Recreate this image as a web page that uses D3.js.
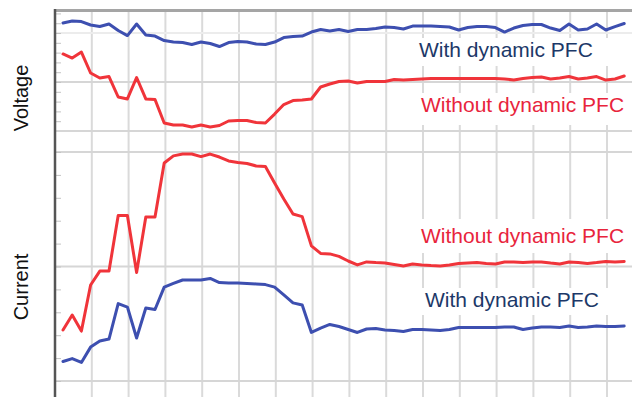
<!DOCTYPE html>
<html><head><meta charset="utf-8">
<script src="https://cdn.jsdelivr.net/npm/d3@7"></script>
<style>body{margin:0;background:#fff}svg{display:block}</style>
</head><body>
<svg width="632" height="397"></svg>
<script>
// ---- data (arbitrary units) ----
const sampleCount = 62;
const voltageWith = [11.02,11.22,11.17,10.82,10.66,10.92,10.26,9.74,10.92,9.80,9.69,9.23,9.08,9.03,8.83,9.08,8.93,8.62,9.03,9.13,9.08,8.88,8.83,9.08,9.54,9.64,9.69,10.10,10.36,10.20,10.36,10.15,10.36,10.36,10.46,10.61,10.56,10.41,10.71,10.71,10.71,10.66,10.61,10.31,10.56,10.66,10.66,10.56,10.10,10.51,10.77,10.87,10.87,10.51,10.26,10.92,10.31,10.41,10.92,10.31,10.66,10.97];
const voltageWithout = [7.86,7.45,8.06,5.92,5.41,5.56,3.47,3.27,5.46,3.27,3.21,0.82,0.61,0.61,0.41,0.61,0.41,0.56,1.02,1.07,1.07,0.87,0.82,1.73,2.70,3.11,3.16,3.27,4.49,4.80,5.05,5.10,4.90,5.05,5.05,5.05,5.26,5.20,5.26,5.31,5.36,5.36,5.36,5.36,5.36,5.36,5.36,5.36,5.31,5.20,5.36,5.46,5.51,5.31,5.41,5.56,5.31,5.41,5.56,5.20,5.31,5.61];
const currentWithout = [2.23,2.88,2.18,4.19,4.80,4.80,7.23,7.23,4.74,7.16,7.16,9.52,9.83,9.91,9.91,9.80,9.91,9.78,9.61,9.54,9.50,9.39,9.37,8.65,7.95,7.29,7.18,5.90,5.57,5.55,5.44,5.24,5.07,5.20,5.17,5.15,5.09,5.02,5.11,5.07,5.04,5.02,5.07,5.13,5.15,5.17,5.13,5.11,5.20,5.20,5.17,5.20,5.20,5.15,5.11,5.20,5.17,5.13,5.17,5.22,5.20,5.22];
const currentWith = [0.85,0.98,0.81,1.48,1.75,1.83,3.38,3.23,1.88,3.19,3.12,4.10,4.26,4.41,4.41,4.41,4.48,4.30,4.28,4.28,4.26,4.24,4.21,4.10,3.76,3.41,3.32,2.12,2.31,2.47,2.38,2.25,2.12,2.27,2.29,2.23,2.21,2.16,2.25,2.25,2.23,2.21,2.25,2.34,2.34,2.34,2.34,2.34,2.36,2.36,2.25,2.31,2.36,2.36,2.34,2.40,2.34,2.36,2.40,2.38,2.38,2.40];
const sampleOffset = 0.87;
const gridTimes = [4,8,12,16,20,24,28,32,36,40,44,48,52,56,60];
const voltageGrid = [0,5,10];
const currentGrid = [0,5,10];
const axisLabels = ["Voltage","Current"];
const seriesLabels = ["With dynamic PFC","Without dynamic PFC"];

const times = d3.range(sampleCount).map(i => i + sampleOffset);

const svg = d3.select("svg");
const x = d3.scaleLinear().domain([0,64]).range([55,55+64*9.2]);
const yV = d3.scaleLinear().domain([0,12.35]).range([131,10]);
const yC = d3.scaleLinear().domain([0,10]).range([381,152]);

const blue = "#3d4fb0", red = "#f0343a";
const navyText = "#1c3868", redText = "#e8243c";

// vertical grid
svg.append("g").selectAll("line").data(gridTimes).join("line")
  .attr("x1", d => x(d)).attr("x2", d => x(d))
  .attr("y1", 10).attr("y2", 397)
  .attr("stroke", "#dadada").attr("stroke-width", 2);

// horizontal grid
const hg = svg.append("g");
hg.selectAll(".v").data(voltageGrid).join("line").attr("class","v")
  .attr("x1", 55).attr("x2", 632)
  .attr("y1", d => yV(d)).attr("y2", d => yV(d))
  .attr("stroke", d => d === 10 ? "#ececec" : "#d6d6d6").attr("stroke-width", 2);
hg.selectAll(".c").data(currentGrid).join("line").attr("class","c")
  .attr("x1", 55).attr("x2", 632)
  .attr("y1", d => yC(d)).attr("y2", d => yC(d))
  .attr("stroke", "#d6d6d6").attr("stroke-width", 2);

// top border
svg.append("line").attr("x1",55).attr("x2",632).attr("y1",10.5).attr("y2",10.5)
  .attr("stroke","#a5a5a5").attr("stroke-width",3);

// minor ticks (inside)
const tV = svg.append("g").attr("transform","translate(55,0)")
  .call(d3.axisRight(yV).tickValues(d3.range(1,13)).tickSize(6).tickFormat(""));
const tC = svg.append("g").attr("transform","translate(55,0)")
  .call(d3.axisRight(yC).tickValues(d3.range(0,11)).tickSize(6).tickFormat(""));
[tV,tC].forEach(g => { g.select(".domain").remove(); g.selectAll("line").attr("stroke","#c4c4c4").attr("stroke-width",1); });

// left axis
svg.append("line").attr("x1",55).attr("x2",55).attr("y1",9).attr("y2",397)
  .attr("stroke","#555").attr("stroke-width",2.5);

// label boxes + labels
const labels = [
  {t: seriesLabels[0], c: navyText, x: 419, y: 57, box: [414, 38, 218, 28]},
  {t: seriesLabels[1], c: redText, x: 421, y: 112, box: [414, 93, 218, 32]},
  {t: seriesLabels[1], c: redText, x: 421, y: 243, box: [414, 219, 218, 34]},
  {t: seriesLabels[0], c: navyText, x: 425, y: 307, box: [414, 288, 218, 27]}
];
svg.append("g").selectAll("rect").data(labels).join("rect")
  .attr("x", d => d.box[0]).attr("y", d => d.box[1])
  .attr("width", d => d.box[2]).attr("height", d => d.box[3]).attr("fill", "#fff");

// series
const lineV = d3.line().x((d,i) => x(times[i])).y(d => yV(d));
const lineC = d3.line().x((d,i) => x(times[i])).y(d => yC(d));
const series = [
  {d: voltageWith, g: lineV, c: blue},
  {d: voltageWithout, g: lineV, c: red},
  {d: currentWithout, g: lineC, c: red},
  {d: currentWith, g: lineC, c: blue}
];
svg.append("g").selectAll("path").data(series).join("path")
  .attr("d", s => s.g(s.d)).attr("fill","none")
  .attr("stroke", s => s.c).attr("stroke-width", 3)
  .attr("stroke-linejoin","round").attr("stroke-linecap","round");

svg.append("g").selectAll("text").data(labels).join("text")
  .attr("x", d => d.x).attr("y", d => d.y).attr("fill", d => d.c)
  .attr("font-family", "'Liberation Sans', Arial, sans-serif").attr("font-size", 21)
  .text(d => d.t);

// axis titles
svg.append("g").selectAll("text").data([{t: axisLabels[0], cy: 98},{t: axisLabels[1], cy: 287}]).join("text")
  .attr("transform", d => `translate(28,${d.cy}) rotate(-90)`)
  .attr("text-anchor","middle").attr("fill","#111")
  .attr("font-family", "'Liberation Sans', Arial, sans-serif").attr("font-size", 20)
  .text(d => d.t);
</script>
</body></html>
